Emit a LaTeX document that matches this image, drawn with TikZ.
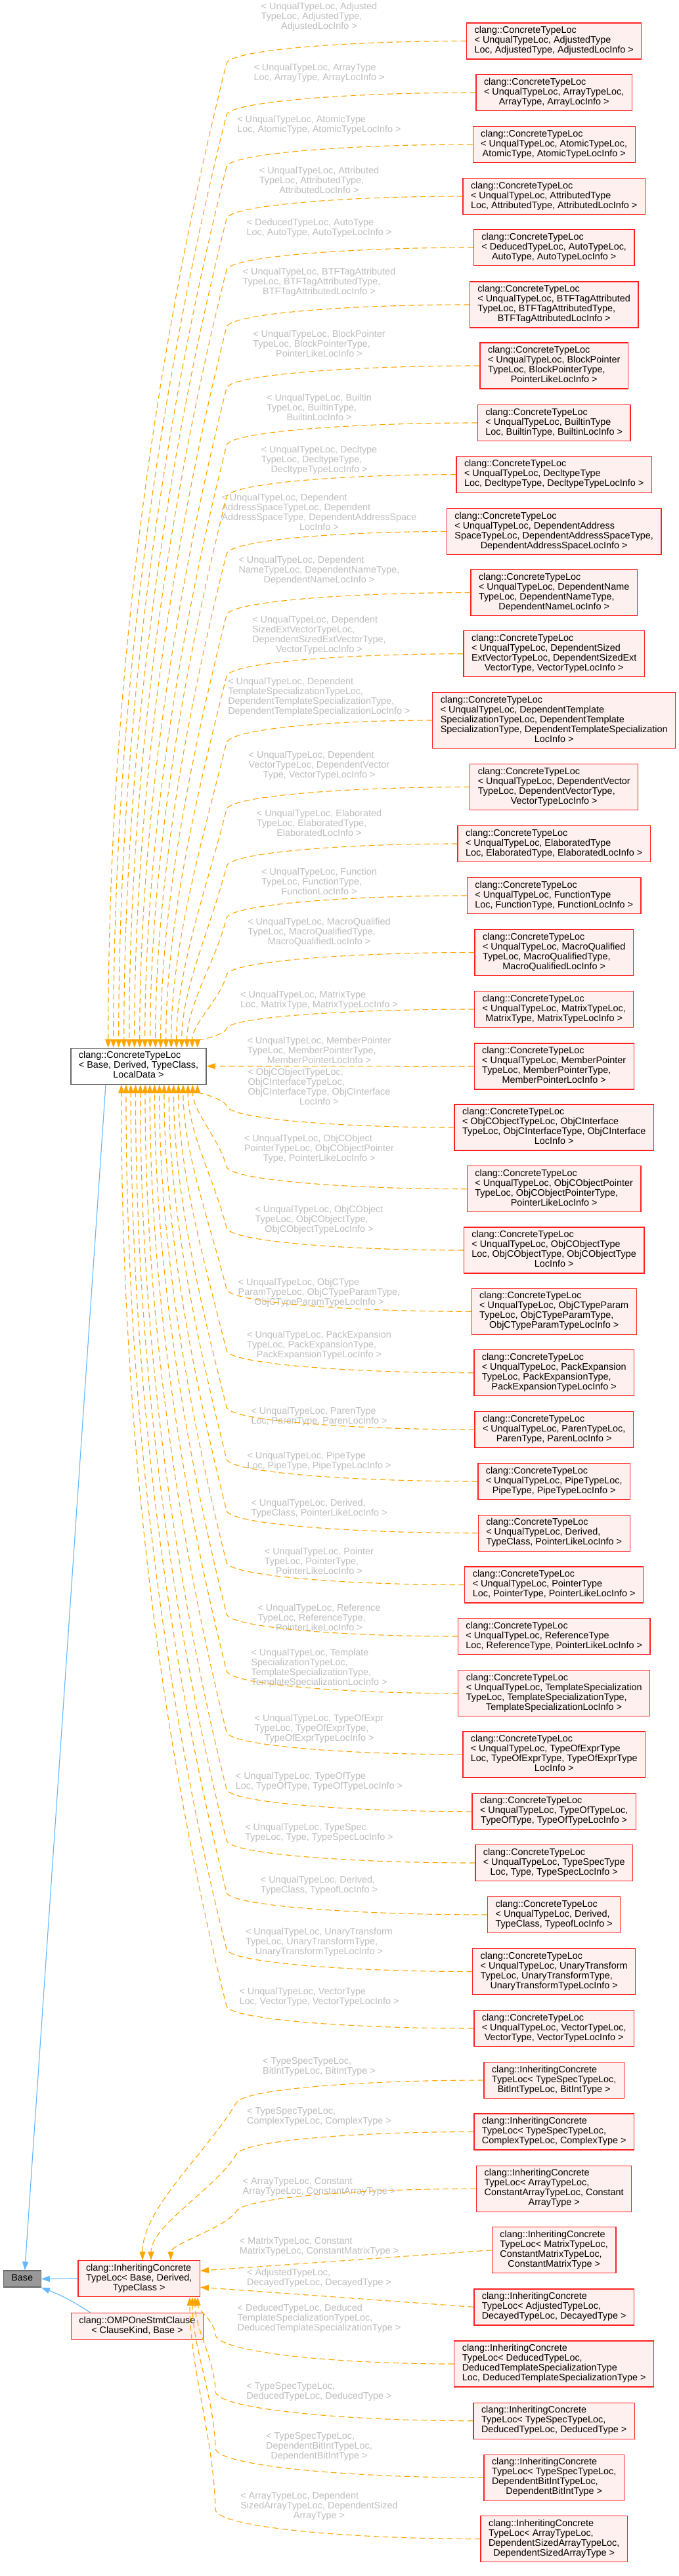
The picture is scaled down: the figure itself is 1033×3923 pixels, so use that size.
\documentclass[tikz,border=0pt]{standalone}
\usepackage{fontspec}
\setmainfont{Liberation Sans}
\usetikzlibrary{arrows.meta,calc}
\definecolor{pinkfill}{HTML}{FFF0F0}
\definecolor{redline}{HTML}{FF2020}
\definecolor{orange1}{HTML}{FFA500}
\definecolor{blue1}{HTML}{63B8FF}
\definecolor{lblgray}{HTML}{BEBEBE}
\definecolor{grayborder}{HTML}{666666}
\definecolor{basefill}{HTML}{999999}
\newcommand\ttab[2]{\begin{tabular}{@{}l@{}}#1\multicolumn{1}{@{}c@{}}{#2}\end{tabular}}
\newcommand\nodefont{\fontsize{10.8}{11.25}\selectfont}
\newcommand\ctlbox[2]{\ttab{clang::ConcreteTypeLoc\\#1}{#2}}
\newcommand\icbox[2]{\ttab{clang::InheritingConcrete\\#1}{#2}}
\tikzset{
  kx/.store in=\kneex, sl/.store in=\slant, amax/.store in=\amaxv,
  kx=258.75pt, sl=0.25, amax=25.5pt,
  cls/.style={draw=redline, fill=pinkfill, line width=1pt, inner xsep=9pt, inner ysep=3.75pt, font=\nodefont, text=black},
  rcls/.style={cls, anchor=center},
  lbl/.style={inner sep=0pt, font=\nodefont, text=lblgray},
  sedge/.style={draw=orange1, line width=0.85pt, dash pattern=on 6.5pt off 4pt, -{Triangle[length=9.75pt,width=6.75pt]}},
  bedge/.style={draw=blue1, line width=0.85pt, -{Triangle[length=9.75pt,width=6.75pt]}},
  tedge/.style={sedge, to path={let \p1=(\tikztostart), \p2=(\tikztotarget),
    \n1={sign(\y2-\y1)}, \n2={min(\amaxv,abs(\y2-\y1)/2)}, \n3={\y1+\n1*\n2}, \n4={0.33*abs(\y2-\n3)} in
    .. controls ({\x1-0.5*(\x1-\kneex)},\y1) and ({\kneex+\slant*0.6*\n2},{\n3-\n1*0.6*\n2}) .. (\kneex,\n3)
    .. controls ({\kneex-\slant*\n4},{\n3+\n1*\n4}) and (\x2,{\y2-\n1*\n4}) .. (\tikztotarget)}}
}
\begin{document}
\begin{tikzpicture}[x=0.75pt,y=-0.75pt]
\fill[white] (0,0) rectangle (1033,3923);
\useasboundingbox (0,0) rectangle (1033,3923);

% left nodes
\node[cls, draw=grayborder, fill=white, anchor=east] (ctl) at (314.7,1623.7) {\ctlbox{< Base, Derived, TypeClass,\\}{LocalData >}};
\node[cls, draw=grayborder, fill=basefill, anchor=west] (base) at (4.7,3470.5) {\ttab{}{Base}};
\node[cls, anchor=east] (inh) at (305,3470.2) {\icbox{TypeLoc< Base, Derived,\\}{TypeClass >}};
\node[cls, anchor=east] (omp) at (310,3542.7) {\ttab{clang::OMPOneStmtClause\\}{< ClauseKind, Base >}};

% right nodes
\node[rcls] (r1) at (843.7,62.5) {\ctlbox{< UnqualTypeLoc, AdjustedType\\}{Loc, AdjustedType, AdjustedLocInfo >}};
\node[rcls] (r2) at (843.7,141) {\ctlbox{< UnqualTypeLoc, ArrayTypeLoc,\\}{ArrayType, ArrayLocInfo >}};
\node[rcls] (r3) at (843.7,220) {\ctlbox{< UnqualTypeLoc, AtomicTypeLoc,\\}{AtomicType, AtomicTypeLocInfo >}};
\node[rcls] (r4) at (843.7,299) {\ctlbox{< UnqualTypeLoc, AttributedType\\}{Loc, AttributedType, AttributedLocInfo >}};
\node[rcls] (r5) at (843.7,377) {\ctlbox{< DeducedTypeLoc, AutoTypeLoc,\\}{AutoType, AutoTypeLocInfo >}};
\node[rcls] (r6) at (843.7,464) {\ctlbox{< UnqualTypeLoc, BTFTagAttributed\\TypeLoc, BTFTagAttributedType,\\}{BTFTagAttributedLocInfo >}};
\node[rcls] (r7) at (843.7,557) {\ctlbox{< UnqualTypeLoc, BlockPointer\\TypeLoc, BlockPointerType,\\}{PointerLikeLocInfo >}};
\node[rcls] (r8) at (843.7,644) {\ctlbox{< UnqualTypeLoc, BuiltinType\\}{Loc, BuiltinType, BuiltinLocInfo >}};
\node[rcls] (r9) at (843.7,722.7) {\ctlbox{< UnqualTypeLoc, DecltypeType\\}{Loc, DecltypeType, DecltypeTypeLocInfo >}};
\node[rcls] (r10) at (843.7,809.5) {\ctlbox{< UnqualTypeLoc, DependentAddress\\SpaceTypeLoc, DependentAddressSpaceType,\\}{DependentAddressSpaceLocInfo >}};
\node[rcls] (r11) at (843.7,902.5) {\ctlbox{< UnqualTypeLoc, DependentName\\TypeLoc, DependentNameType,\\}{DependentNameLocInfo >}};
\node[rcls] (r12) at (843.7,995.7) {\ctlbox{< UnqualTypeLoc, DependentSized\\ExtVectorTypeLoc, DependentSizedExt\\}{VectorType, VectorTypeLocInfo >}};
\node[rcls] (r13) at (843.7,1097) {\ctlbox{< UnqualTypeLoc, DependentTemplate\\SpecializationTypeLoc, DependentTemplate\\SpecializationType, DependentTemplateSpecialization\\}{LocInfo >}};
\node[rcls] (r14) at (843.7,1198.5) {\ctlbox{< UnqualTypeLoc, DependentVector\\TypeLoc, DependentVectorType,\\}{VectorTypeLocInfo >}};
\node[rcls] (r15) at (843.7,1285) {\ctlbox{< UnqualTypeLoc, ElaboratedType\\}{Loc, ElaboratedType, ElaboratedLocInfo >}};
\node[rcls] (r16) at (843.7,1364) {\ctlbox{< UnqualTypeLoc, FunctionType\\}{Loc, FunctionType, FunctionLocInfo >}};
\node[rcls] (r17) at (843.7,1450.5) {\ctlbox{< UnqualTypeLoc, MacroQualified\\TypeLoc, MacroQualifiedType,\\}{MacroQualifiedLocInfo >}};
\node[rcls] (r18) at (843.7,1537) {\ctlbox{< UnqualTypeLoc, MatrixTypeLoc,\\}{MatrixType, MatrixTypeLocInfo >}};
\node[rcls] (r19) at (843.7,1624) {\ctlbox{< UnqualTypeLoc, MemberPointer\\TypeLoc, MemberPointerType,\\}{MemberPointerLocInfo >}};
\node[rcls] (r20) at (843.7,1717) {\ctlbox{< ObjCObjectTypeLoc, ObjCInterface\\TypeLoc, ObjCInterfaceType, ObjCInterface\\}{LocInfo >}};
\node[rcls] (r21) at (843.7,1810.7) {\ctlbox{< UnqualTypeLoc, ObjCObjectPointer\\TypeLoc, ObjCObjectPointerType,\\}{PointerLikeLocInfo >}};
\node[rcls] (r22) at (843.7,1904) {\ctlbox{< UnqualTypeLoc, ObjCObjectType\\Loc, ObjCObjectType, ObjCObjectType\\}{LocInfo >}};
\node[rcls] (r23) at (843.7,1997.3) {\ctlbox{< UnqualTypeLoc, ObjCTypeParam\\TypeLoc, ObjCTypeParamType,\\}{ObjCTypeParamTypeLocInfo >}};
\node[rcls] (r24) at (843.7,2090.7) {\ctlbox{< UnqualTypeLoc, PackExpansion\\TypeLoc, PackExpansionType,\\}{PackExpansionTypeLocInfo >}};
\node[rcls] (r25) at (843.7,2177) {\ctlbox{< UnqualTypeLoc, ParenTypeLoc,\\}{ParenType, ParenLocInfo >}};
\node[rcls] (r26) at (843.7,2256) {\ctlbox{< UnqualTypeLoc, PipeTypeLoc,\\}{PipeType, PipeTypeLocInfo >}};
\node[rcls] (r27) at (843.7,2334.7) {\ctlbox{< UnqualTypeLoc, Derived,\\}{TypeClass, PointerLikeLocInfo >}};
\node[rcls] (r28) at (843.7,2413.5) {\ctlbox{< UnqualTypeLoc, PointerType\\}{Loc, PointerType, PointerLikeLocInfo >}};
\node[rcls] (r29) at (843.7,2492) {\ctlbox{< UnqualTypeLoc, ReferenceType\\}{Loc, ReferenceType, PointerLikeLocInfo >}};
\node[rcls] (r30) at (843.7,2578.7) {\ctlbox{< UnqualTypeLoc, TemplateSpecialization\\TypeLoc, TemplateSpecializationType,\\}{TemplateSpecializationLocInfo >}};
\node[rcls] (r31) at (843.7,2671.8) {\ctlbox{< UnqualTypeLoc, TypeOfExprType\\Loc, TypeOfExprType, TypeOfExprType\\}{LocInfo >}};
\node[rcls] (r32) at (843.7,2758.8) {\ctlbox{< UnqualTypeLoc, TypeOfTypeLoc,\\}{TypeOfType, TypeOfTypeLocInfo >}};
\node[rcls] (r33) at (843.7,2837) {\ctlbox{< UnqualTypeLoc, TypeSpecType\\}{Loc, Type, TypeSpecLocInfo >}};
\node[rcls] (r34) at (843.7,2916) {\ctlbox{< UnqualTypeLoc, Derived,\\}{TypeClass, TypeofLocInfo >}};
\node[rcls] (r35) at (843.7,3002.5) {\ctlbox{< UnqualTypeLoc, UnaryTransform\\TypeLoc, UnaryTransformType,\\}{UnaryTransformTypeLocInfo >}};
\node[rcls] (r36) at (843.7,3089) {\ctlbox{< UnqualTypeLoc, VectorTypeLoc,\\}{VectorType, VectorTypeLocInfo >}};
\node[rcls] (r37) at (843.7,3168) {\icbox{TypeLoc< TypeSpecTypeLoc,\\}{BitIntTypeLoc, BitIntType >}};
\node[rcls] (r38) at (843.7,3246.5) {\icbox{TypeLoc< TypeSpecTypeLoc,\\}{ComplexTypeLoc, ComplexType >}};
\node[rcls] (r39) at (843.7,3333.3) {\icbox{TypeLoc< ArrayTypeLoc,\\ConstantArrayTypeLoc, Constant\\}{ArrayType >}};
\node[rcls] (r40) at (843.7,3426.7) {\icbox{TypeLoc< MatrixTypeLoc,\\ConstantMatrixTypeLoc,\\}{ConstantMatrixType >}};
\node[rcls] (r41) at (843.7,3513.3) {\icbox{TypeLoc< AdjustedTypeLoc,\\}{DecayedTypeLoc, DecayedType >}};
\node[rcls] (r42) at (843.7,3600) {\icbox{TypeLoc< DeducedTypeLoc,\\DeducedTemplateSpecializationType\\}{Loc, DeducedTemplateSpecializationType >}};
\node[rcls] (r43) at (843.7,3686.7) {\icbox{TypeLoc< TypeSpecTypeLoc,\\}{DeducedTypeLoc, DeducedType >}};
\node[rcls] (r44) at (843.7,3773.3) {\icbox{TypeLoc< TypeSpecTypeLoc,\\DependentBitIntTypeLoc,\\}{DependentBitIntType >}};
\node[rcls] (r45) at (843.7,3866.5) {\icbox{TypeLoc< ArrayTypeLoc,\\DependentSizedArrayTypeLoc,\\}{DependentSizedArrayType >}};

% edge labels
\node[lbl] (l1) at (486,26.7) {\ttab{< UnqualTypeLoc, Adjusted\\TypeLoc, AdjustedType,\\}{AdjustedLocInfo >}};
\node[lbl] (l2) at (486,112) {\ttab{< UnqualTypeLoc, ArrayType\\}{Loc, ArrayType, ArrayLocInfo >}};
\node[lbl] (l3) at (486,191.3) {\ttab{< UnqualTypeLoc, AtomicType\\}{Loc, AtomicType, AtomicTypeLocInfo >}};
\node[lbl] (l4) at (486,276.7) {\ttab{< UnqualTypeLoc, Attributed\\TypeLoc, AttributedType,\\}{AttributedLocInfo >}};
\node[lbl] (l5) at (486,348.3) {\ttab{< DeducedTypeLoc, AutoType\\}{Loc, AutoType, AutoTypeLocInfo >}};
\node[lbl] (l6) at (486,430.7) {\ttab{< UnqualTypeLoc, BTFTagAttributed\\TypeLoc, BTFTagAttributedType,\\}{BTFTagAttributedLocInfo >}};
\node[lbl] (l7) at (486,525) {\ttab{< UnqualTypeLoc, BlockPointer\\TypeLoc, BlockPointerType,\\}{PointerLikeLocInfo >}};
\node[lbl] (l8) at (486,622.7) {\ttab{< UnqualTypeLoc, Builtin\\TypeLoc, BuiltinType,\\}{BuiltinLocInfo >}};
\node[lbl] (l9) at (486,701) {\ttab{< UnqualTypeLoc, Decltype\\TypeLoc, DecltypeType,\\}{DecltypeTypeLocInfo >}};
\node[lbl] (l10) at (486,781.8) {\ttab{< UnqualTypeLoc, Dependent\\AddressSpaceTypeLoc, Dependent\\AddressSpaceType, DependentAddressSpace\\}{LocInfo >}};
\node[lbl] (l11) at (486,869) {\ttab{< UnqualTypeLoc, Dependent\\NameTypeLoc, DependentNameType,\\}{DependentNameLocInfo >}};
\node[lbl] (l12) at (486,968.3) {\ttab{< UnqualTypeLoc, Dependent\\SizedExtVectorTypeLoc,\\DependentSizedExtVectorType,\\}{VectorTypeLocInfo >}};
\node[lbl] (l13) at (486,1061.5) {\ttab{< UnqualTypeLoc, Dependent\\TemplateSpecializationTypeLoc,\\DependentTemplateSpecializationType,\\}{DependentTemplateSpecializationLocInfo >}};
\node[lbl] (l14) at (486,1166.7) {\ttab{< UnqualTypeLoc, Dependent\\VectorTypeLoc, DependentVector\\}{Type, VectorTypeLocInfo >}};
\node[lbl] (l15) at (486,1255.3) {\ttab{< UnqualTypeLoc, Elaborated\\TypeLoc, ElaboratedType,\\}{ElaboratedLocInfo >}};
\node[lbl] (l16) at (486,1344.7) {\ttab{< UnqualTypeLoc, Function\\TypeLoc, FunctionType,\\}{FunctionLocInfo >}};
\node[lbl] (l17) at (486,1420.7) {\ttab{< UnqualTypeLoc, MacroQualified\\TypeLoc, MacroQualifiedType,\\}{MacroQualifiedLocInfo >}};
\node[lbl] (l18) at (486,1524.2) {\ttab{< UnqualTypeLoc, MatrixType\\}{Loc, MatrixType, MatrixTypeLocInfo >}};
\node[lbl] (l19) at (486,1601) {\ttab{< UnqualTypeLoc, MemberPointer\\TypeLoc, MemberPointerType,\\}{MemberPointerLocInfo >}};
\node[lbl] (l20) at (486,1657) {\ttab{< ObjCObjectTypeLoc,\\ObjCInterfaceTypeLoc,\\ObjCInterfaceType, ObjCInterface\\}{LocInfo >}};
\node[lbl] (l21) at (486,1750.7) {\ttab{< UnqualTypeLoc, ObjCObject\\PointerTypeLoc, ObjCObjectPointer\\}{Type, PointerLikeLocInfo >}};
\node[lbl] (l22) at (486,1858.3) {\ttab{< UnqualTypeLoc, ObjCObject\\TypeLoc, ObjCObjectType,\\}{ObjCObjectTypeLocInfo >}};
\node[lbl] (l23) at (486,1969) {\ttab{< UnqualTypeLoc, ObjCType\\ParamTypeLoc, ObjCTypeParamType,\\}{ObjCTypeParamTypeLocInfo >}};
\node[lbl] (l24) at (486,2049) {\ttab{< UnqualTypeLoc, PackExpansion\\TypeLoc, PackExpansionType,\\}{PackExpansionTypeLocInfo >}};
\node[lbl] (l25) at (486,2158) {\ttab{< UnqualTypeLoc, ParenType\\}{Loc, ParenType, ParenLocInfo >}};
\node[lbl] (l26) at (486,2226) {\ttab{< UnqualTypeLoc, PipeType\\}{Loc, PipeType, PipeTypeLocInfo >}};
\node[lbl] (l27) at (486,2297.7) {\ttab{< UnqualTypeLoc, Derived,\\}{TypeClass, PointerLikeLocInfo >}};
\node[lbl] (l28) at (486,2379.7) {\ttab{< UnqualTypeLoc, Pointer\\TypeLoc, PointerType,\\}{PointerLikeLocInfo >}};
\node[lbl] (l29) at (486,2465) {\ttab{< UnqualTypeLoc, Reference\\TypeLoc, ReferenceType,\\}{PointerLikeLocInfo >}};
\node[lbl] (l30) at (486,2540.7) {\ttab{< UnqualTypeLoc, Template\\SpecializationTypeLoc,\\TemplateSpecializationType,\\}{TemplateSpecializationLocInfo >}};
\node[lbl] (l31) at (486,2633) {\ttab{< UnqualTypeLoc, TypeOfExpr\\TypeLoc, TypeOfExprType,\\}{TypeOfExprTypeLocInfo >}};
\node[lbl] (l32) at (486,2713.8) {\ttab{< UnqualTypeLoc, TypeOfType\\}{Loc, TypeOfType, TypeOfTypeLocInfo >}};
\node[lbl] (l33) at (486,2792.3) {\ttab{< UnqualTypeLoc, TypeSpec\\}{TypeLoc, Type, TypeSpecLocInfo >}};
\node[lbl] (l34) at (486,2871.5) {\ttab{< UnqualTypeLoc, Derived,\\}{TypeClass, TypeofLocInfo >}};
\node[lbl] (l35) at (486,2958.7) {\ttab{< UnqualTypeLoc, UnaryTransform\\TypeLoc, UnaryTransformType,\\}{UnaryTransformTypeLocInfo >}};
\node[lbl] (l36) at (486,3041.8) {\ttab{< UnqualTypeLoc, VectorType\\}{Loc, VectorType, VectorTypeLocInfo >}};
\node[lbl] (l37) at (486,3148.3) {\ttab{< TypeSpecTypeLoc,\\}{BitIntTypeLoc, BitIntType >}};
\node[lbl] (l38) at (486,3224.3) {\ttab{< TypeSpecTypeLoc,\\}{ComplexTypeLoc, ComplexType >}};
\node[lbl] (l39) at (486,3331.3) {\ttab{< ArrayTypeLoc, Constant\\}{ArrayTypeLoc, ConstantArrayType >}};
\node[lbl] (l40) at (486,3422) {\ttab{< MatrixTypeLoc, Constant\\}{MatrixTypeLoc, ConstantMatrixType >}};
\node[lbl] (l41) at (486,3469.7) {\ttab{< AdjustedTypeLoc,\\}{DecayedTypeLoc, DecayedType >}};
\node[lbl] (l42) at (486,3531.7) {\ttab{< DeducedTypeLoc, Deduced\\TemplateSpecializationTypeLoc,\\}{DeducedTemplateSpecializationType >}};
\node[lbl] (l43) at (486,3643) {\ttab{< TypeSpecTypeLoc,\\}{DeducedTypeLoc, DeducedType >}};
\node[lbl] (l44) at (486,3726.3) {\ttab{< TypeSpecTypeLoc,\\DependentBitIntTypeLoc,\\}{DependentBitIntType >}};
\node[lbl] (l45) at (486,3817) {\ttab{< ArrayTypeLoc, Dependent\\SizedArrayTypeLoc, DependentSized\\}{ArrayType >}};

% edge end points
\foreach \i/\s in {1/-112.5,2/-106.5,3/-100.5,4/-94.5,5/-88.5,6/-82.5,7/-76.5,8/-70.5,9/-64.5,10/-58.5,11/-52.5,12/-46.5,13/-40.5,14/-34.5,15/-28.5,16/-22.5,17/-16.5,18/-10.5}
  \coordinate (t\i) at ([xshift=\s pt]ctl.north east);
\foreach \i/\s in {20/-10.5,21/-15.94,22/-21.375,23/-26.81,24/-32.25,25/-37.69,26/-43.125,27/-48.56,28/-54,29/-59.44,30/-64.875,31/-70.31,32/-75.75,33/-81.19,34/-86.625,35/-92.06,36/-97.5}
  \coordinate (t\i) at ([xshift=\s pt]ctl.south east);
\foreach \i/\s in {37/-66,38/-56.25,39/-33.75}
  \coordinate (t\i) at ([xshift=\s pt]inh.north east);
\coordinate (t40) at ([yshift=9pt]inh.east);
\coordinate (t41) at ([yshift=-9.75pt]inh.east);
\foreach \i/\s in {42/-3,43/-6,44/-9,45/-12}
  \coordinate (t\i) at ([xshift=\s pt]inh.south east);

% orange template edges
\foreach \i in {1,...,18} \draw[tedge] (r\i.west) to (t\i);
\draw[sedge] (r19.west) -- (ctl.east);
\foreach \i in {20,...,36} \draw[tedge] (r\i.west) to (t\i);
\foreach \i in {37,38,39} \draw[tedge, kx=270pt, sl=0.6] (r\i.west) to (t\i);
\draw[sedge] (r40.west) -- (t40);
\draw[sedge] (r41.west) -- (t41);
\foreach \i in {42,...,45} \draw[tedge, kx=246pt, sl=0.02, amax=33.75pt] (r\i.west) to (t\i);

% blue inheritance edges
\coordinate (b1) at ([xshift=-37.5pt]ctl.south);
\coordinate (b2) at ([xshift=3pt]base.north);
\coordinate (b4) at ([xshift=22.5pt]omp.north west);
\draw[bedge] (b1) -- (b2);
\draw[bedge] (inh.west) -- (base.east);
\draw[bedge] (b4) to[bend right=6] (base.south east);
\end{tikzpicture}
\end{document}
